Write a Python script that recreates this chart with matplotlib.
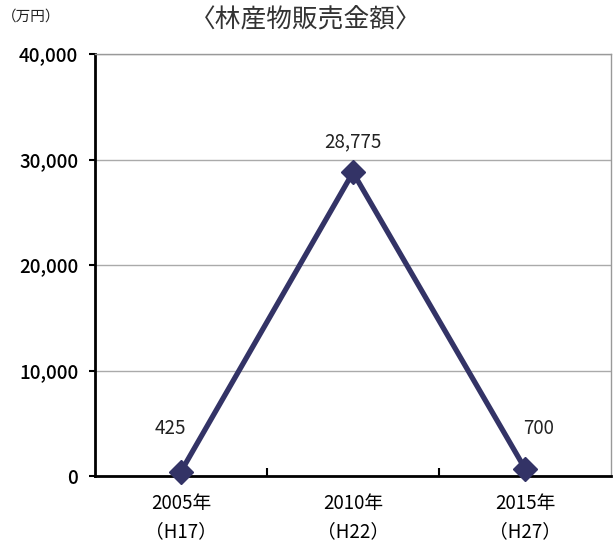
import matplotlib
matplotlib.use("Agg")
import matplotlib.pyplot as plt
from matplotlib.ticker import FuncFormatter

plt.rcParams['font.family'] = ['Noto Sans CJK JP', 'DejaVu Sans']

categories = ["2005年\n（H17）", "2010年\n（H22）", "2015年\n（H27）"]
values = [425, 28775, 700]
value_labels = ["425", "28,775", "700"]
label_offsets = [(-8, 31), (0, 22), (10, 29)]
yticks = [0, 10000, 20000, 30000, 40000]

fig = plt.figure(figsize=(6.13, 5.5), dpi=100)
ax = fig.add_axes([95/613, 1-476/550, (611-95)/613, (476-54)/550])

x = list(range(len(categories)))
color = "#333366"
ax.plot(x, values, color=color, linewidth=3.8, marker="D", markersize=12,
        markerfacecolor=color, markeredgecolor=color, zorder=3, clip_on=False)

for xi, v, lab, off in zip(x, values, value_labels, label_offsets):
    ax.annotate(lab, (xi, v), xytext=off, textcoords="offset points",
                ha="center", va="center", fontsize=13.5, color="#222222")

ax.set_xlim(-0.5, 2.5)
ax.set_ylim(0, 40000)
ax.set_yticks(yticks)
ax.yaxis.set_major_formatter(FuncFormatter(lambda v, p: f"{int(v):,}"))
ax.grid(axis="y", color="#aaaaaa", linewidth=1)
ax.set_axisbelow(True)

ax.set_xticks(x)
ax.set_xticklabels(categories, fontsize=13.5, linespacing=1.45)
ax.tick_params(axis="x", length=0, pad=12)
ax.set_xticks([0.5, 1.5], minor=True)
ax.tick_params(axis="x", which="minor", direction="in", length=6, width=1.5, color="black")
ax.tick_params(axis="y", direction="out", length=4, width=1.5, labelsize=13.5, pad=8)
for t in ax.get_yticklabels():
    t.set_fontweight("medium")

for s in ["left", "bottom"]:
    ax.spines[s].set_color("black")
    ax.spines[s].set_linewidth(2)
for s in ["top", "right"]:
    ax.spines[s].set_color("#999999")
    ax.spines[s].set_linewidth(1)

fig.text(306/613, 1-20/550, "〈林産物販売金額〉", ha="center", va="center", fontsize=18.5, color="#333333")
fig.text(31/613, 1-17/550, "（万円）", ha="center", va="center", fontsize=10.5, color="#222222")

fig.savefig("out.png", dpi=100)
